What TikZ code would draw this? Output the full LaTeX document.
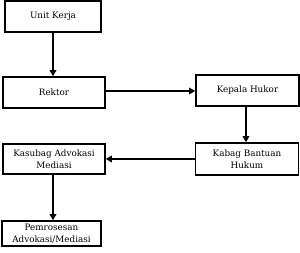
\documentclass[tikz,border=0pt]{standalone}
\usepackage{fontspec}
\setmainfont{DejaVu Serif}
\usetikzlibrary{arrows.meta}
\begin{document}
\begin{tikzpicture}[x=1pt,y=-1pt,
  box/.style={draw=black,line width=1.6pt,inner sep=0pt,align=center,
    font=\fontsize{8.8}{11.5}\selectfont},
  conn/.style={line width=1.7pt,-{Triangle[length=6pt,width=6.5pt]}}]
\useasboundingbox (0,0) rectangle (300,253);
\node[box,minimum width=96pt,minimum height=31pt] (unit) at (53,16.5) {Unit Kerja};
\node[box,minimum width=102pt,minimum height=31pt] (rektor) at (54,92.5) {Rektor};
\node[box,minimum width=103pt,minimum height=31pt] (kepala) at (247.5,90.5) {Kepala Hukor};
\node[box,minimum width=103pt,minimum height=32pt] (kabag) at (247,159) {Kabag Bantuan\\Hukum};
\node[box,minimum width=102pt,minimum height=30pt] (kasubag) at (54,159) {Kasubag Advokasi\\Mediasi};
\node[box,minimum width=99pt,minimum height=25pt] (proses) at (51.5,233.5) {Pemrosesan\\Advokasi/Mediasi};
\coordinate (h1) at (0,91);
\draw[conn] (rektor.east |- h1) -- (kepala.west |- h1);
\draw[conn] (unit.south) -- (unit.south |- rektor.north);
\draw[conn] (kepala.south -| 246,0) -- (246,0 |- kabag.north);
\draw[conn] (kabag.west) -- (kasubag.east);
\draw[conn] (kasubag.south -| 53,0) -- (53,0 |- proses.north);
\end{tikzpicture}
\end{document}
